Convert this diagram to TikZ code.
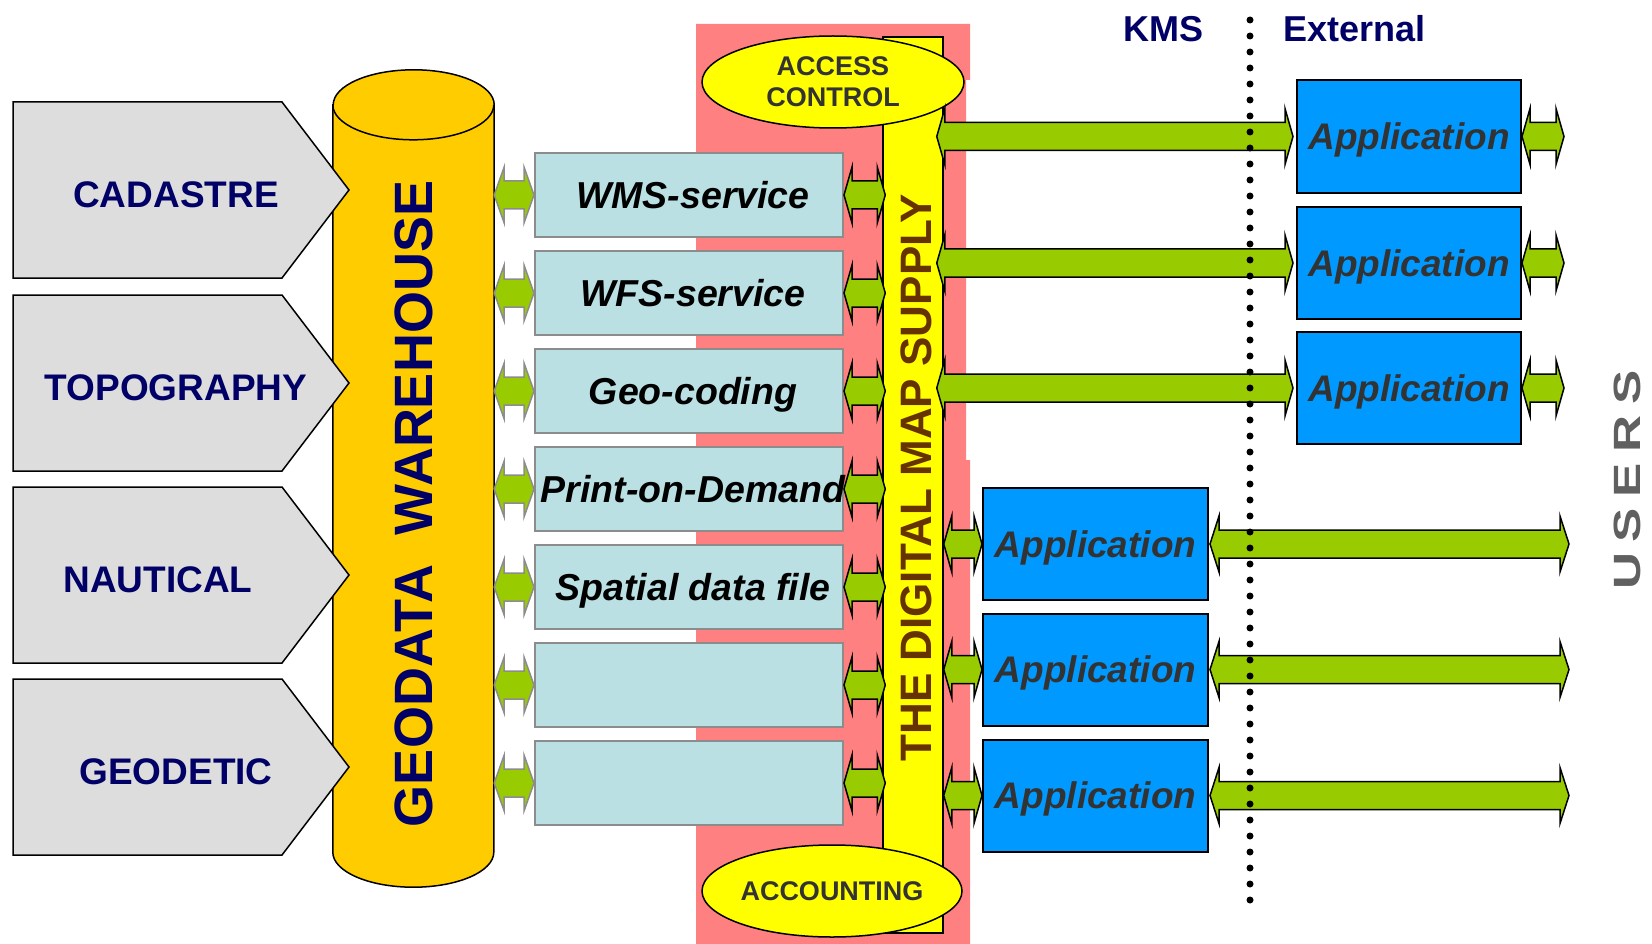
\documentclass[tikz,border=0pt]{standalone}
\usepackage{fontspec}
\usepackage{graphicx}
\setmainfont{Liberation Sans}
\usetikzlibrary{calc,shapes.geometric}

\definecolor{srcgray}{HTML}{DDDDDD}
\definecolor{navy}{HTML}{000066}
\definecolor{whgold}{HTML}{FFCC00}
\definecolor{svcblue}{HTML}{BBE0E3}
\definecolor{svcedge}{HTML}{8C8C8C}
\definecolor{leaf}{HTML}{99CC00}
\definecolor{salmon}{HTML}{FF8080}
\definecolor{lemon}{HTML}{FFFF00}
\definecolor{umber}{HTML}{663300}
\definecolor{appblue}{HTML}{0099FF}
\definecolor{ink}{HTML}{333333}
\definecolor{usergray}{HTML}{606060}

% flat double-headed block arrow: [options]{head length}{from}{to}
\newcommand{\blockarrow}[4][]{%
  \draw[greenarrow,#1] let \p1=(#3), \p2=(#4) in
    (\x1,\y1) -- (\x1+#2,\y1+28pt) -- (\x1+#2,\y1+14pt) -- (\x2-#2,\y1+14pt)
    -- (\x2-#2,\y1+28pt) -- (\x2,\y1) -- (\x2-#2,\y1-28pt) -- (\x2-#2,\y1-14pt)
    -- (\x1+#2,\y1-14pt) -- (\x1+#2,\y1-28pt) -- cycle;}

% grey source panel with pointed right end: {name}{top y}{label x}{label}
\newcommand{\srcpanel}[4]{%
  \draw[srcshape] (13,#2) -- (282,#2) -- (349,#2+88) -- (282,#2+176) -- (13,#2+176) -- cycle;
  \node[srctext] (#1) at (#3,#2+92.5) {#4};}

% service label: kept out of the box size, nudged right for the slant
\newcommand{\svctext}[1]{\hspace*{8pt}\makebox[0pt]{#1}}

\tikzset{
  greenarrow/.style={fill=leaf, draw=black, line width=1.5pt, line join=miter},
  srcshape/.style={fill=srcgray, draw=black, line width=1.5pt},
  srctext/.style={inner sep=0pt, text=navy, font=\fontsize{37pt}{40pt}\selectfont\bfseries,
    text height=26.5pt, text depth=0pt},
  whtext/.style={inner sep=0pt, text=navy, font=\fontsize{54pt}{56pt}\selectfont\bfseries,
    text height=38.7pt, text depth=0pt},
  svc/.style={draw=svcedge, line width=2pt, fill=svcblue, minimum width=308pt,
    minimum height=84pt, inner sep=0pt, font=\fontsize{37.5pt}{40pt}\selectfont\bfseries\itshape,
    text height=26.9pt, text depth=0pt},
  bartext/.style={inner sep=0pt, text=umber, font=\fontsize{44pt}{46pt}\selectfont\bfseries,
    text height=31.5pt, text depth=0pt},
  gate/.style={ellipse, draw=black, line width=1.5pt, fill=lemon, inner sep=0pt,
    text=ink, align=center, font=\fontsize{27pt}{31pt}\selectfont\bfseries},
  app/.style={draw=black, line width=2pt, fill=appblue, inner sep=0pt, minimum height=112pt,
    text=ink, font=\fontsize{37pt}{40pt}\selectfont\bfseries\itshape,
    text height=26.5pt, text depth=0pt},
  zone/.style={inner sep=0pt, text=navy, font=\fontsize{36pt}{40pt}\selectfont\bfseries},
}

\begin{document}
\begin{tikzpicture}[x=1pt,y=-1pt]
\useasboundingbox (0,0) rectangle (1652,944);

% red backdrop of the map supply layer
\fill[salmon] (696,24) -- (970,24) -- (970,80) -- (966,80) -- (966,460) -- (970,460)
  -- (970,944) -- (696,944) -- cycle;

% geodata warehouse cylinder
\node[minimum width=161pt, minimum height=747pt, inner sep=0pt] (wh) at (413.5,478.5) {};
\filldraw[fill=whgold, draw=black, line width=1.5pt]
  (wh.north west) -- (wh.south west)
  arc[start angle=180, end angle=360, x radius=80.5pt, y radius=35pt]
  -- (wh.north east)
  arc[start angle=0, end angle=180, x radius=80.5pt, y radius=35pt] -- cycle;
\draw[line width=1.5pt] (wh.north west)
  arc[start angle=180, end angle=360, x radius=80.5pt, y radius=35pt];
\node[whtext, rotate=90] (whlabel) at (413,504) {GEODATA\ \ WAREHOUSE};

% data sources
\srcpanel{cad}{102}{176}{CADASTRE}
\srcpanel{topo}{295}{176}{TOPOGRAPHY}
\srcpanel{naut}{487}{158}{NAUTICAL}
\srcpanel{geod}{679}{176}{GEODETIC}

% services
\node[svc] (s1) at (689,195) {\svctext{WMS-service}};
\node[svc] (s2) at (689,293) {\svctext{WFS-service}};
\node[svc] (s3) at (689,391) {\svctext{Geo-coding}};
\node[svc] (s4) at (689,489) {\svctext{Print-on-Demand}};
\node[svc] (s5) at (689,587) {\svctext{Spatial data file}};
\node[svc] (s6) at (689,685) {};
\node[svc] (s7) at (689,783) {};

% digital map supply bar
\node[draw=black, line width=1.5pt, fill=lemon, minimum width=60pt, minimum height=896pt,
  inner sep=0pt] (bar) at (913,485) {};
\node[bartext, rotate=90] (barlabel) at (916,478) {THE DIGITAL MAP SUPPLY};

% warehouse <-> services <-> supply
\foreach \s in {s1,s2,s3,s4,s5,s6,s7}{
  \blockarrow[draw=svcedge]{10pt}{wh.east |- \s.west}{\s.west}
  \blockarrow{8pt}{\s.east}{$(bar.west |- \s.east)+(3,0)$}
}

% access control and accounting
\node[gate, minimum width=262pt, minimum height=92pt] (access) at (833,82) {ACCESS\\CONTROL};
\node[gate, minimum width=260pt, minimum height=92pt] (accounting) at (832,891) {ACCOUNTING};

% external applications
\node[app, minimum width=224pt, minimum height=113pt] (a1) at (1409,136.5) {Application};
\node[app, minimum width=224pt] (a2) at (1409,263) {Application};
\node[app, minimum width=224pt] (a3) at (1409,388) {Application};

% KMS applications
\node[app, minimum width=225pt] (b1) at (1095.5,544) {Application};
\node[app, minimum width=225pt] (b2) at (1095.5,669.5) {Application};
\node[app, minimum width=225pt] (b3) at (1095.5,795.5) {Application};

\foreach \a in {a1,a2,a3}{
  \blockarrow{8pt}{$(bar.east |- \a.west)+(-7,0)$}{$(\a.west)+(-3,0)$}
  \blockarrow{8pt}{\a.east}{$(\a.east)+(42,0)$}
}
\foreach \b in {b1,b2,b3}{
  \blockarrow{8pt}{bar.east |- \b.west}{\b.west}
  \blockarrow{9pt}{$(\b.east)+(1,0)$}{$(\b.east)+(360,0)$}
}

% KMS / External divider
\coordinate (dtop) at (1250,20);
\coordinate (dbot) at (1250,902);
\draw[line width=7pt, line cap=round, dash pattern=on 0pt off 16pt] (dtop) -- (dbot);

\node[zone, anchor=base west] (kms) at (1123,42) {KMS};
\node[zone, anchor=base west] (ext) at (1283,42) {External};

\node[rotate=90, inner sep=0pt, text=usergray, font=\fontsize{38pt}{40pt}\selectfont\bfseries,
  text height=27.2pt, text depth=0pt] (users) at (1626.5,480)
  {\scalebox{1.35}[1]{U\kern8pt S\kern8pt E\kern8pt R\kern8pt S}};
\end{tikzpicture}
\end{document}
